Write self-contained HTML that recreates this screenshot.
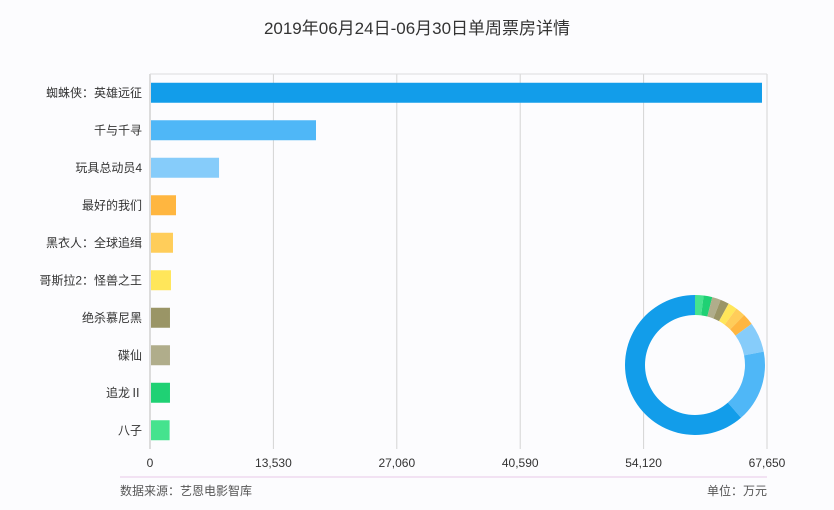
<!DOCTYPE html>
<html><head><meta charset="utf-8"><style>
html,body{margin:0;width:834px;height:510px;overflow:hidden;background:#fcfcfe;font-family:"Liberation Sans","Noto Sans CJK SC",sans-serif;}
svg{display:block;}
svg text{font-family:"Liberation Sans","Noto Sans CJK SC",sans-serif;}
</style></head><body>
<svg id="c" width="834" height="510">
<text x="417" y="34" text-anchor="middle" font-size="17" fill="#333">2019年06月24日-06月30日单周票房详情</text>
<g id="grid"></g><g id="bars"></g><g id="donut"></g>
<line x1="120" y1="477" x2="767" y2="477" stroke="#e8c8e8"/>
<text x="120" y="495" font-size="12" fill="#555">数据来源：艺恩电影智库</text>
<text x="767" y="495" font-size="12" fill="#555" text-anchor="end">单位：万元</text>
</svg>
<script>
const categories=["蜘蛛侠：英雄远征","千与千寻","玩具总动员4","最好的我们","黑衣人：全球追缉","哥斯拉2：怪兽之王","绝杀慕尼黑","碟仙","追龙Ⅱ","八子"];
const values=[67100,18200,7570,2850,2520,2300,2190,2190,2190,2150];
const colors=["#129DEA","#4FB7F7","#86CCFA","#FFB640","#FFCD5A","#FFE65A","#9A9566","#B0AD8B","#1FD174","#45E38E"];
const ticks=[0,13530,27060,40590,54120,67650];
const tickLabels=["0","13,530","27,060","40,590","54,120","67,650"];
const NS="http://www.w3.org/2000/svg";
const x0=150,x1=767,y0=74,y1=449,maxV=67650;
const xs=v=>x0+v/maxV*(x1-x0);
const band=(y1-y0)/categories.length;
function mk(t,a,p){const e=document.createElementNS(NS,t);for(const k in a)e.setAttribute(k,a[k]);p.appendChild(e);return e;}
const grid=document.getElementById('grid');
ticks.forEach((t,i)=>{
 const l=mk('line',{x1:xs(t),x2:xs(t),y1:y0,y2:y1,stroke:i==0?'#bbb':'#d4d4d4'},grid);
 
 
 const tx=mk('text',{x:xs(t),y:y1+18,'font-size':12,fill:'#333','text-anchor':'middle'},grid);
 tx.textContent=tickLabels[i];
 
 
});
const fr=mk('line',{x1:x0,x2:x1,y1:y0,y2:y0,stroke:'#ddd'},grid);


const bars=document.getElementById('bars');
categories.forEach((c,i)=>{
 const cy=y0+band*(i+0.5);
 const r=mk('rect',{x:x0+1,y:cy-10,width:xs(values[i])-x0-1,height:20,fill:colors[i]},bars);
 
 
 const t=mk('text',{x:x0-8,y:cy+4,'font-size':12,fill:'#333','text-anchor':'end'},bars);
 t.textContent=c;
 
 
});
const dn=document.getElementById('donut');
const cx=695,cy=365,R=70,r0=50;
const total=values.reduce((a,b)=>a+b,0);
let ang=0;
for(let i=categories.length-1;i>=0;i--){
 const a0=ang,a1=ang+values[i]/total*2*Math.PI;ang=a1;
 const p=(a,rr)=>[cx+rr*Math.sin(a),cy-rr*Math.cos(a)];
 const [ax,ay]=p(a0,R),[bx,by]=p(a1,R),[cx2,cy2]=p(a1,r0),[dx,dy]=p(a0,r0);
 const lg=(a1-a0)>Math.PI?1:0;
 const s=mk('path',{d:`M${ax},${ay}A${R},${R} 0 ${lg} 1 ${bx},${by}L${cx2},${cy2}A${r0},${r0} 0 ${lg} 0 ${dx},${dy}Z`,fill:colors[i]},dn);
 
 
}
</script>
</body></html>
